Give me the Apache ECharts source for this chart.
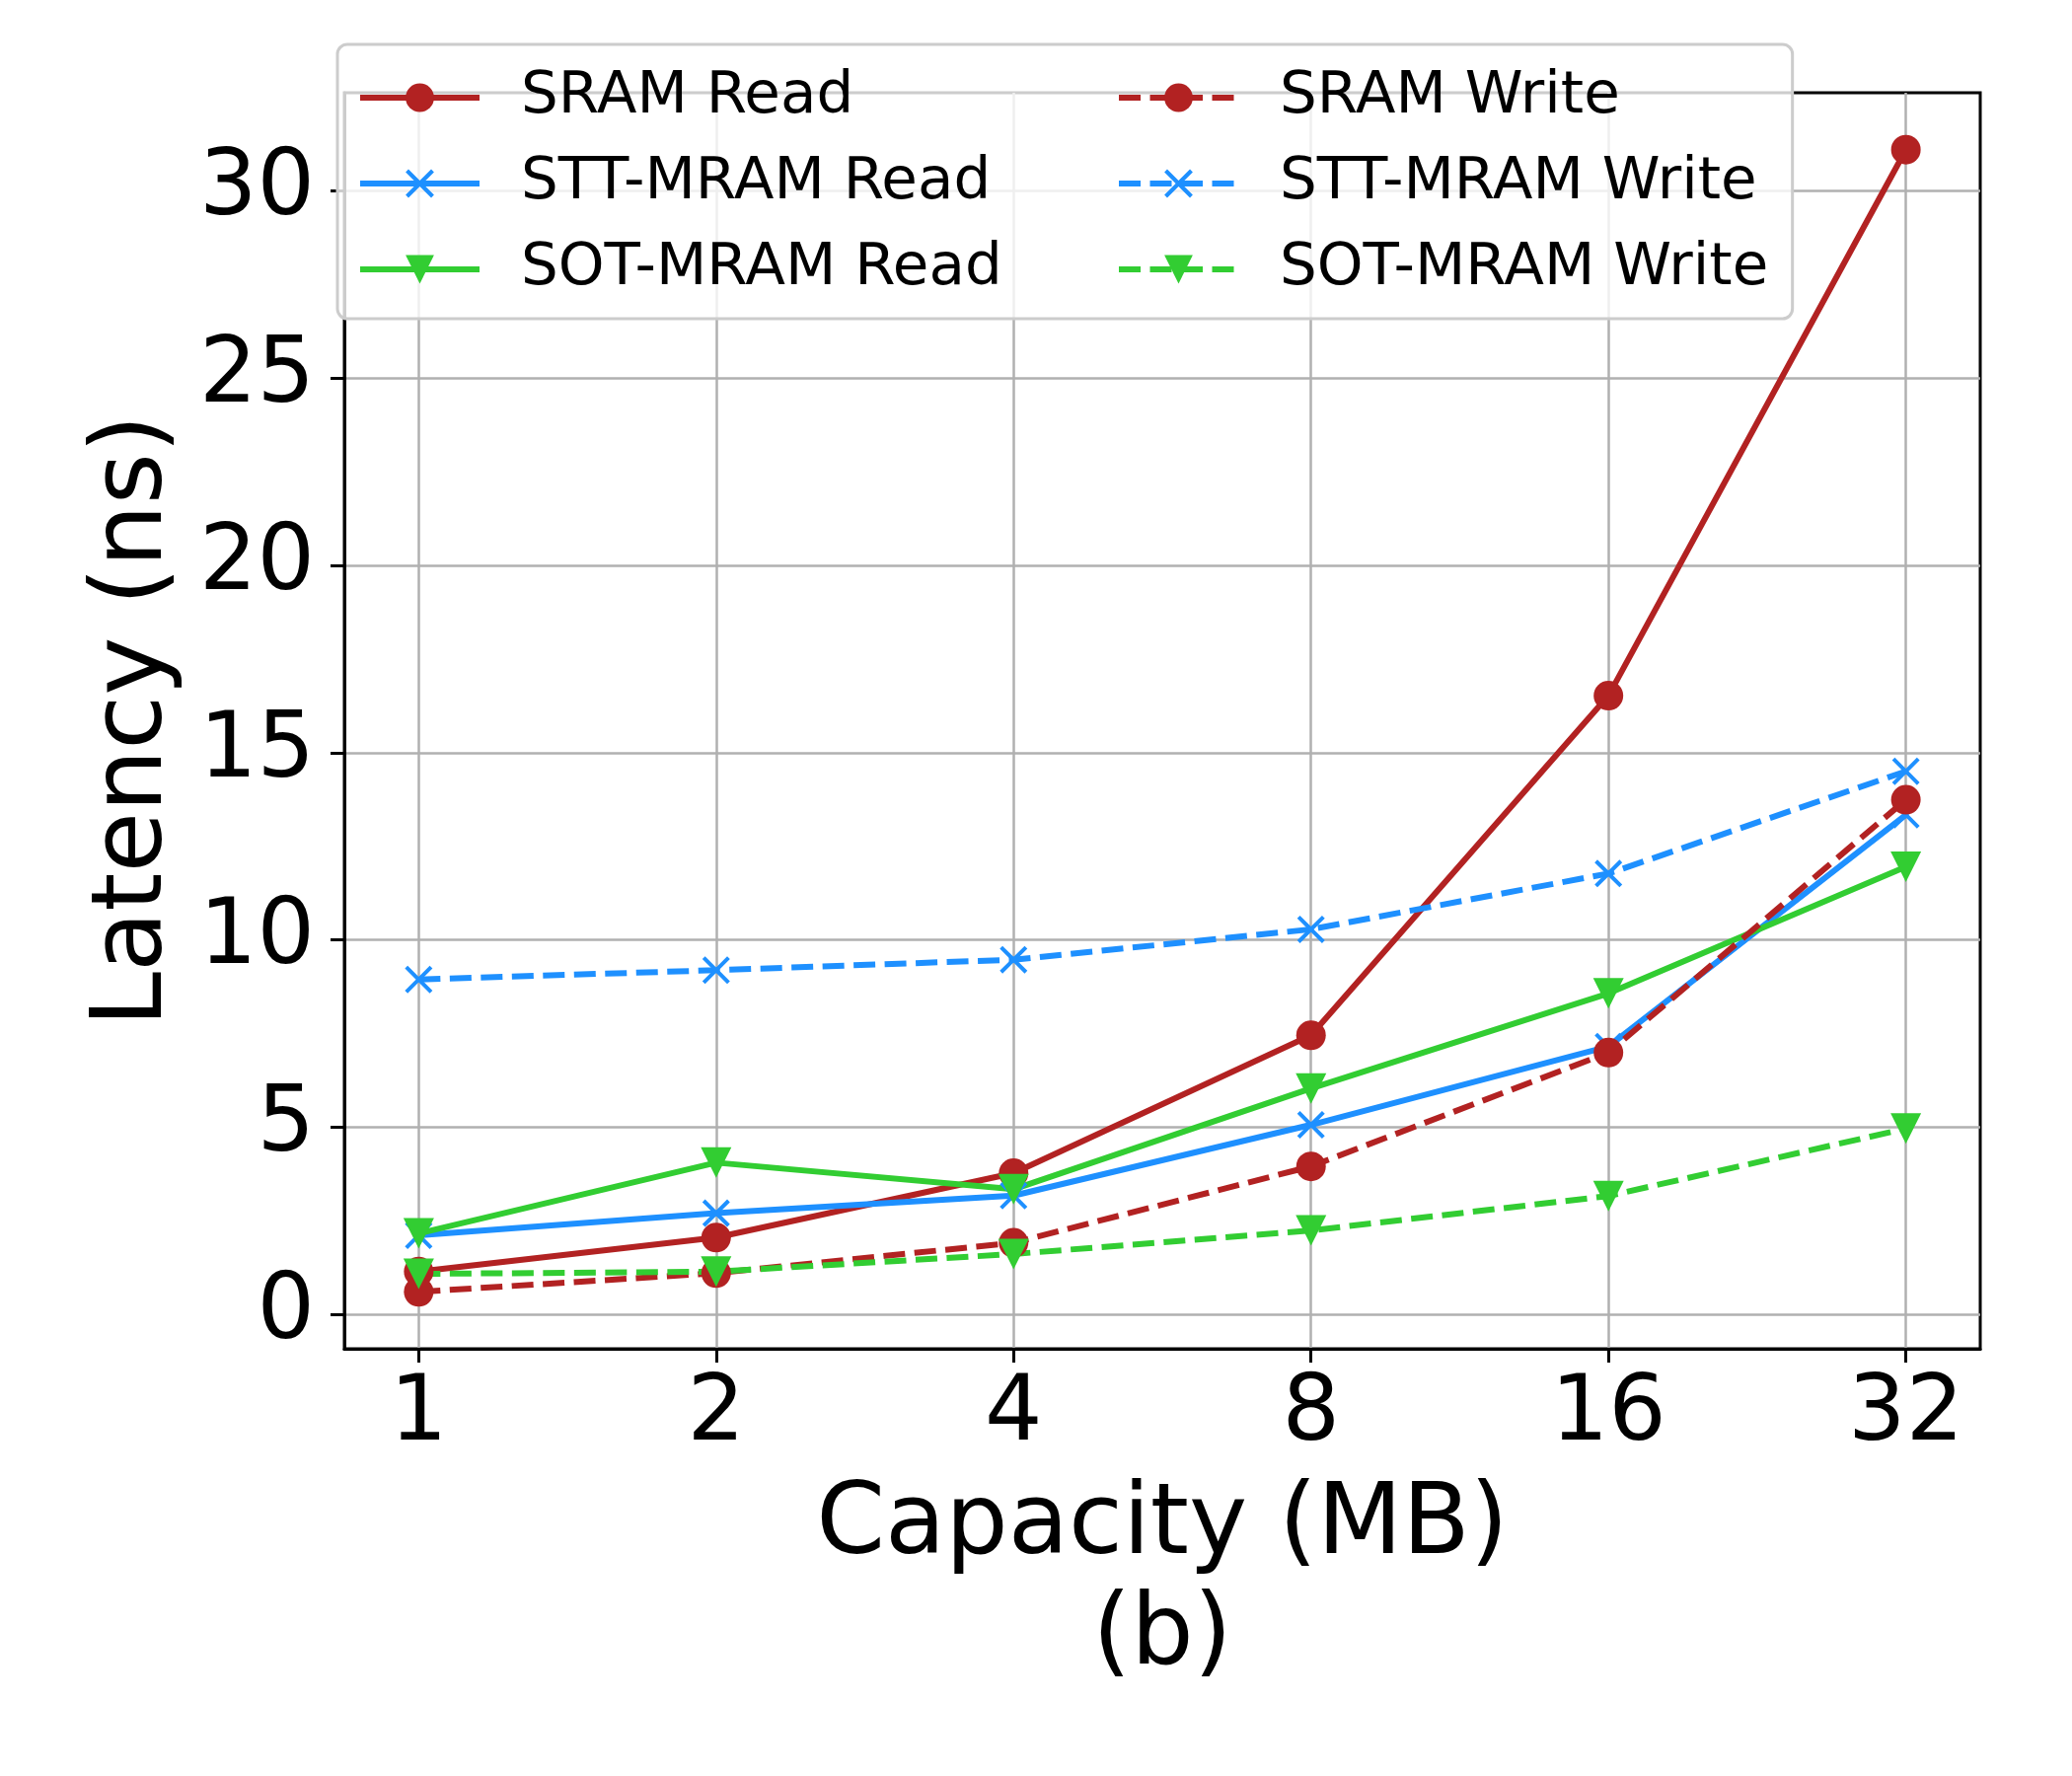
<!DOCTYPE html>
<html>
<head>
<meta charset="utf-8">
<script src="https://cdn.jsdelivr.net/npm/echarts@6/dist/echarts.min.js"></script>
<style>
html,body{margin:0;padding:0;background:#fff;}
#chart{width:2100px;height:1800px;}
</style>
</head>
<body>
<div id="chart"></div>
<script>
// ---- data ----
const capacities = [1, 2, 4, 8, 16, 32];           // MB
const sramRead  = [1.14, 2.05, 3.77, 7.45, 16.52, 31.10];
const sramWrite = [0.60, 1.10, 1.91, 3.95, 6.99, 13.74];
const sttRead   = [2.11, 2.70, 3.17, 5.06, 7.15, 13.34];
const sttWrite  = [8.94, 9.19, 9.47, 10.28, 11.77, 14.50];
const sotRead   = [2.16, 4.05, 3.34, 6.03, 8.57, 11.95];
const sotWrite  = [1.08, 1.14, 1.61, 2.24, 3.16, 4.96];
const yTicks = [0, 5, 10, 15, 20, 25, 30];
const xLabel = 'Capacity (MB)\n(b)';
const yLabel = 'Latency (ns)';

const FONT = 'DejaVu Sans';
const RED = '#b22222', BLUE = '#1e90ff', GREEN = '#32cd32';
const X_PATH = 'path://M0,1L1,0L5,4L9,0L10,1L6,5L10,9L9,10L5,6L1,10L0,9L4,5Z';
const LW = 6;

const xPos = capacities.map(c => Math.log2(c));
const pts = arr => arr.map((v, i) => [xPos[i], v]);

function mk(name, vals, color, dashed, symbol) {
  const s = {
    name: name,
    type: 'line',
    data: pts(vals),
    lineStyle: { color: color, width: LW, type: dashed ? [22, 9.5] : 'solid', cap: 'butt' },
    itemStyle: { color: color },
    symbolKeepAspect: true,
    emphasis: { disabled: true },
    animation: false
  };
  if (symbol === 'circle') { s.symbol = 'circle'; s.symbolSize = 30; }
  else if (symbol === 'x') { s.symbol = X_PATH; s.symbolSize = 28; }
  else { s.symbol = 'triangle'; s.symbolSize = 31; s.symbolRotate = 180; }
  return s;
}

const series = [
  mk('SRAM Read', sramRead, RED, false, 'circle'),
  mk('STT-MRAM Read', sttRead, BLUE, false, 'x'),
  mk('SOT-MRAM Read', sotRead, GREEN, false, 'tri'),
  mk('SRAM Write', sramWrite, RED, true, 'circle'),
  mk('STT-MRAM Write', sttWrite, BLUE, true, 'x'),
  mk('SOT-MRAM Write', sotWrite, GREEN, true, 'tri')
];

const legendCommon = {
  orient: 'vertical',
  itemWidth: 121,
  itemHeight: 36,
  itemGap: 27,
  selectedMode: false,
  lineStyle: { width: LW },
  textStyle: { fontFamily: FONT, fontSize: 59.5, color: '#000', lineHeight: 60, padding: [0, 0, 0, 37] },
  z: 10
};

const chart = echarts.init(document.getElementById('chart'), null, { renderer: 'canvas' });
chart.setOption({
  backgroundColor: '#fff',
  animation: false,
  grid: {
    left: 349, right: 93, top: 94, bottom: 433,
    show: true, borderColor: '#000', borderWidth: 3, backgroundColor: 'transparent'
  },
  xAxis: {
    type: 'value',
    min: -0.25, max: 5.25,
    name: xLabel,
    nameLocation: 'middle',
    nameGap: 125,
    nameTextStyle: { fontFamily: FONT, fontSize: 100, color: '#000', lineHeight: 112 },
    axisLine: { show: true, onZero: false, lineStyle: { color: '#000', width: 3 } },
    axisTick: { show: true, length: 14, lineStyle: { color: '#000', width: 3 }, customValues: xPos },
    axisLabel: {
      fontFamily: FONT, fontSize: 92, color: '#000', margin: 22,
      customValues: xPos,
      formatter: v => { const i = xPos.indexOf(v); return i >= 0 ? String(capacities[i]) : ''; }
    },
    splitLine: { show: true, lineStyle: { color: '#b0b0b0', width: 2.5 } }
  },
  yAxis: {
    type: 'value',
    min: -0.92, max: 32.62,
    name: yLabel,
    nameLocation: 'middle',
    nameRotate: 90,
    nameGap: 162,
    nameTextStyle: { fontFamily: FONT, fontSize: 100, color: '#000', lineHeight: 100 },
    axisLine: { show: true, onZero: false, lineStyle: { color: '#000', width: 3 } },
    axisTick: { show: true, length: 14, lineStyle: { color: '#000', width: 3 }, customValues: yTicks },
    axisLabel: { fontFamily: FONT, fontSize: 92, color: '#000', margin: 30, customValues: yTicks },
    splitLine: { show: true, lineStyle: { color: '#b0b0b0', width: 2.5 } }
  },
  legend: [
    Object.assign({}, legendCommon, {
      data: ['SRAM Read', 'STT-MRAM Read', 'SOT-MRAM Read'],
      left: 342, top: 45,
      padding: [24, 801, 20, 20],
      backgroundColor: 'rgba(255,255,255,0.8)',
      borderColor: '#cccccc',
      borderWidth: 3,
      borderRadius: 10
    }),
    Object.assign({}, legendCommon, {
      data: ['SRAM Write', 'STT-MRAM Write', 'SOT-MRAM Write'],
      left: 1131, top: 69,
      padding: 0,
      z: 11
    })
  ],
  series: series
});
</script>
</body>
</html>
